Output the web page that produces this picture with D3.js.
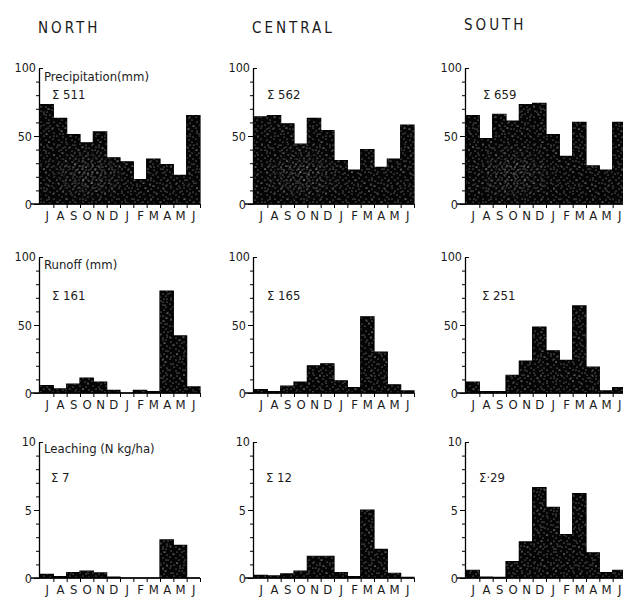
<!DOCTYPE html>
<html>
<head>
<meta charset="utf-8">
<script src="https://cdn.jsdelivr.net/npm/d3@7"></script>
<style>
  body { margin: 0; background: #fff; }
  svg { display: block; }
  text { font-family: "DejaVu Sans Condensed", "DejaVu Sans", sans-serif; font-stretch: condensed; fill: #1a1a1a; }
</style>
</head>
<body>
<div id="chart"></div>
<script>
// months July .. June
var months = ["J", "A", "S", "O", "N", "D", "J", "F", "M", "A", "M", "J"];
var regions = ["NORTH", "CENTRAL", "SOUTH"];

// precipitation (mm)
var precipNorth   = [73, 63, 51, 45, 53, 34, 31, 18, 33, 29, 21, 65];
var precipCentral = [64, 65, 59, 44, 63, 54, 32, 25, 40, 27, 33, 58];
var precipSouth   = [65, 48, 66, 61, 73, 74, 51, 35, 60, 28, 25, 60];
var precipSums = ["Σ 511", "Σ 562", "Σ 659"];

// runoff (mm)
var runoffNorth   = [5.5, 3, 6.5, 11, 8, 2, 0, 2, 1, 75, 42, 4.5];
var runoffCentral = [2.5, 1, 5, 8, 20, 21.5, 9, 4, 56, 30, 6, 1.5];
var runoffSouth   = [8, 1, 1, 13, 23.5, 48.5, 31, 24, 64, 19, 1.5, 4];
var runoffSums = ["Σ 161", "Σ 165", "Σ 251"];

// leaching (N kg/ha)
var leachNorth   = [0.27, 0.1, 0.4, 0.5, 0.37, 0.07, 0, 0, 0, 2.8, 2.4, 0];
var leachCentral = [0.2, 0.15, 0.3, 0.5, 1.6, 1.6, 0.4, 0.1, 5.0, 2.1, 0.35, 0.05];
var leachSouth   = [0.57, 0.07, 0.05, 1.2, 2.65, 6.65, 5.2, 3.2, 6.2, 1.85, 0.4, 0.57];
var leachSums = ["Σ 7", "Σ 12", "Σ·29"];

var rows = [
  { label: "Precipitation(mm)", series: [precipNorth, precipCentral, precipSouth], sums: precipSums, max: 100, major: [0, 50], minor: d3.range(10, 100, 10), cloud: true },
  { label: "Runoff (mm)", series: [runoffNorth, runoffCentral, runoffSouth], sums: runoffSums, max: 100, major: [0, 50], minor: d3.range(10, 100, 10), cloud: false },
  { label: "Leaching (N kg/ha)", series: [leachNorth, leachCentral, leachSouth], sums: leachSums, max: 10, major: [0, 5], minor: d3.range(1, 10, 1), cloud: false }
];

// layout
var width = 623, height = 600;
var colX = [39, 253, 465];
var rowZero = [204, 393, 578];
var plotH = 136, plotW = 160;
var sumDy = [31, 43, 40];
var sumDx = [[13, 14, 18], [13, 14, 17], [12, 13, 14]];
var labelDy = [13, 12, 11];
var titleY = [33, 33, 30];

var svg = d3.select("#chart")
  .append("svg")
  .attr("width", width)
  .attr("height", height);

// stipple texture for the bars
var defs = svg.append("defs");
function stipple(id, w, h, dots, op) {
  var p = defs.append("pattern")
    .attr("id", id)
    .attr("patternUnits", "userSpaceOnUse")
    .attr("width", w)
    .attr("height", h);
  p.selectAll("circle")
    .data(dots)
    .enter()
    .append("circle")
    .attr("cx", function(d) { return d[0]; })
    .attr("cy", function(d) { return d[1]; })
    .attr("r", 0.55)
    .attr("fill", "#fff")
    .attr("fill-opacity", op);
}
stipple("dotsA", 13, 11, [[2, 1], [8, 2], [11, 5], [5, 4], [1, 7], [7, 8], [10, 10]], 0.7);
stipple("dotsB", 17, 19, [[3, 3], [12, 1], [15, 9], [7, 12], [1, 15], [10, 17], [14, 14]], 0.7);
stipple("dotsC", 9, 7, [[1, 1], [5, 2], [3, 4], [7, 5], [2, 6]], 0.9);

// lighter speckled cloud inside the precipitation bars
var grad = defs.append("radialGradient").attr("id", "cloudGrad");
grad.append("stop").attr("offset", "0%").attr("stop-color", "#fff").attr("stop-opacity", 1);
grad.append("stop").attr("offset", "100%").attr("stop-color", "#fff").attr("stop-opacity", 0);

// column titles
svg.selectAll(".title")
  .data(regions)
  .enter()
  .append("text")
  .attr("class", "title")
  .attr("x", function(d, i) { return colX[i] - 1; })
  .attr("y", function(d, i) { return titleY[i]; })
  .style("font-size", "15px")
  .style("letter-spacing", "3px")
  .text(function(d) { return d; });

rows.forEach(function(row, r) {
  var zeroY = rowZero[r];
  var topY = zeroY - plotH;

  row.series.forEach(function(values, c) {
    var x0 = colX[c];
    var x = d3.scaleLinear().domain([0, 12]).range([x0 + 1, x0 + 1 + plotW]);
    var y = d3.scaleLinear().domain([0, row.max]).range([zeroY, topY]);

    var g = svg.append("g");

    // bars as one stepped area
    var stepData = values.concat([values[values.length - 1]]);
    var area = d3.area()
      .x(function(d, i) { return x(i); })
      .y0(y(0))
      .y1(function(d) { return y(d); })
      .curve(d3.curveStepAfter);

    g.append("path")
      .attr("d", area(stepData))
      .attr("fill", "#050505")
      .attr("stroke", "#000")
      .attr("stroke-width", 1.2);
    g.append("path")
      .attr("d", area(stepData))
      .attr("fill", "url(#dotsA)");
    g.append("path")
      .attr("d", area(stepData))
      .attr("fill", "url(#dotsB)");

    if (row.cloud) {
      var mid = "cloud" + r + c;
      var mask = defs.append("mask").attr("id", mid);
      mask.append("ellipse")
        .attr("cx", x(3.6))
        .attr("cy", y(22))
        .attr("rx", 42)
        .attr("ry", 30)
        .attr("fill", "url(#cloudGrad)");
      g.append("path")
        .attr("d", area(stepData))
        .attr("fill", "url(#dotsC)")
        .attr("mask", "url(#" + mid + ")");
    }

    // y axis: minor ticks
    g.append("g")
      .attr("transform", "translate(" + x0 + ",0)")
      .call(d3.axisLeft(y).tickValues(row.minor).tickSize(3).tickSizeOuter(0).tickFormat(""))
      .call(function(a) { a.select(".domain").attr("stroke-width", 1.3); });

    // y axis: major ticks with labels
    g.append("g")
      .attr("transform", "translate(" + x0 + ",0)")
      .call(d3.axisLeft(y).tickValues(row.major).tickSize(5).tickPadding(2).tickSizeOuter(0))
      .call(function(a) {
        a.select(".domain").remove();
        a.selectAll("text").style("font-size", "12.5px").attr("fill", "#1a1a1a")
          .style("font-family", "'DejaVu Sans Condensed','DejaVu Sans',sans-serif");
      });

    // top tick turned inward, with its label
    g.append("g")
      .attr("transform", "translate(" + x0 + ",0)")
      .call(d3.axisRight(y).tickValues([row.max]).tickSize(4).tickSizeOuter(0).tickFormat(""))
      .call(function(a) { a.select(".domain").remove(); });
    g.append("text")
      .attr("x", x0 - 3)
      .attr("y", y(row.max) + 4)
      .attr("text-anchor", "end")
      .style("font-size", "12.5px")
      .text(row.max);

    // x axis baseline, ticks at month boundaries
    g.append("line")
      .attr("x1", x0 - 8)
      .attr("x2", x(12))
      .attr("y1", zeroY)
      .attr("y2", zeroY)
      .attr("stroke", "#000")
      .attr("stroke-width", 1.3);
    g.append("g")
      .attr("transform", "translate(0," + zeroY + ")")
      .call(d3.axisBottom(x).tickValues(d3.range(1, 13)).tickSize(4).tickSizeOuter(0).tickFormat(""))
      .call(function(a) { a.select(".domain").remove(); });

    // month letters
    g.append("g")
      .attr("transform", "translate(0," + (zeroY + 5) + ")")
      .call(d3.axisBottom(x).tickValues(d3.range(12).map(function(i) { return i + 0.5; }))
        .tickSize(0).tickPadding(2).tickFormat(function(d) { return months[Math.floor(d)]; }))
      .call(function(a) {
        a.select(".domain").remove();
        a.selectAll("text").style("font-size", "13px").attr("fill", "#1a1a1a")
          .style("font-family", "'DejaVu Sans Condensed','DejaVu Sans',sans-serif");
      });

    // panel label (first column only) and sum
    if (c === 0) {
      g.append("text")
        .attr("x", x0 + 5)
        .attr("y", topY + labelDy[r])
        .style("font-size", "13px")
        .text(row.label);
    }
    g.append("text")
      .attr("x", x0 + sumDx[r][c])
      .attr("y", topY + sumDy[r])
      .style("font-size", "13px")
      .text(row.sums[c]);
  });
});
</script>
</body>
</html>
